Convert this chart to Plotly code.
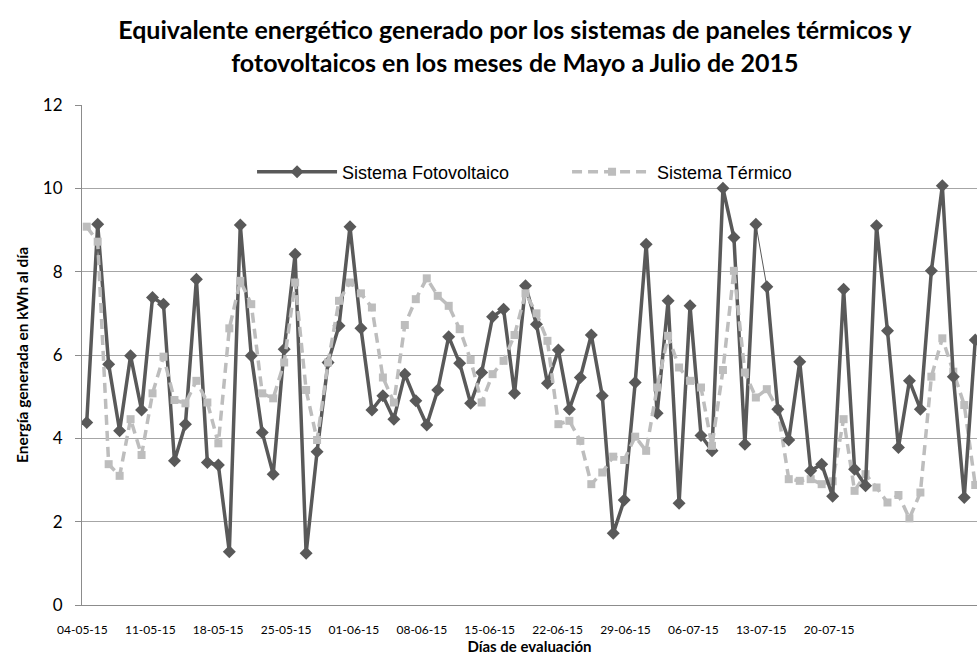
import plotly.graph_objects as go

# ---- data ----
tick_dates = ["2015-05-04", "2015-05-11", "2015-05-18", "2015-05-25",
              "2015-06-01", "2015-06-08", "2015-06-15", "2015-06-22",
              "2015-06-29", "2015-07-06", "2015-07-13", "2015-07-20"]
tick_labels = ["04-05-15", "11-05-15", "18-05-15", "25-05-15",
               "01-06-15", "08-06-15", "15-06-15", "22-06-15",
               "29-06-15", "06-07-15", "13-07-15", "20-07-15"]

fotovoltaico = [4.38, 9.14, 5.78, 4.18, 5.98, 4.68, 7.38, 7.22, 3.46, 4.34,
                7.82, 3.42, 3.36, 1.28, 9.12, 5.98, 4.14, 3.14, 6.14, 8.42,
                1.24, 3.68, 5.82, 6.70, 9.08, 6.64, 4.68, 5.02, 4.46, 5.54,
                4.90, 4.32, 5.16, 6.44, 5.80, 4.84, 5.58, 6.92, 7.10, 5.08,
                7.66, 6.74, 5.32, 6.12, 4.70, 5.46, 6.48, 5.02, 1.72, 2.52,
                5.34, 8.66, 4.60, 7.30, 2.44, 7.18, 4.07, 3.70, 10.00, 8.82,
                3.86, 9.14, 7.64, 4.70, 3.96, 5.84, 3.22, 3.38, 2.61, 7.58,
                3.26, 2.86, 9.10, 6.58, 3.78, 5.38, 4.70, 8.02, 10.06, 5.48,
                2.58, 6.36]

termico = [9.08, 8.72, 3.38, 3.10, 4.46, 3.60, 5.08, 5.96, 4.92, 4.84,
           5.38, 4.86, 3.88, 6.64, 7.78, 7.22, 5.08, 4.96, 5.82, 7.74,
           5.16, 3.96, 5.82, 7.30, 7.74, 7.48, 7.14, 5.46, 4.86, 6.72,
           7.34, 7.84, 7.42, 7.18, 6.62, 5.88, 4.86, 5.54, 5.86, 6.48,
           7.48, 7.00, 6.34, 4.34, 4.42, 3.94, 2.90, 3.18, 3.56, 3.48,
           4.04, 3.70, 5.22, 6.46, 5.70, 5.38, 5.22, 3.82, 5.64, 8.02,
           5.58, 4.98, 5.18, 4.70, 3.02, 2.98, 3.02, 2.90, 2.97, 4.46,
           2.74, 3.14, 2.82, 2.46, 2.64, 2.08, 2.70, 5.48, 6.40, 5.60,
           4.80, 2.88]

dias = list(range(len(fotovoltaico)))
thin_from = 61  # segment drawn thin in the original

DARK = "#595959"
LIGHT = "#BDBDBD"
FONT = "Lato, 'Open Sans', sans-serif"
LEG_FONT = "'Liberation Sans', Arial, sans-serif"

fig = go.Figure()

# invisible carrier for the date axis labels (primary x axis)
fig.add_trace(go.Scatter(
    x=[tick_dates[0], tick_dates[-1]], y=[None, None], mode="lines",
    xaxis="x", yaxis="y", showlegend=False, hoverinfo="skip"))

fig.add_trace(go.Scatter(
    x=dias[:thin_from + 1], y=fotovoltaico[:thin_from + 1],
    name="Sistema Fotovoltaico", mode="lines+markers", xaxis="x2",
    line=dict(color=DARK, width=3.5),
    marker=dict(symbol="diamond", size=10, color=DARK)))

fig.add_trace(go.Scatter(
    x=dias, y=termico, name="Sistema Térmico", mode="lines+markers",
    xaxis="x2",
    line=dict(color=LIGHT, width=3.5, dash="10px,6px"),
    marker=dict(symbol="square", size=8, color=LIGHT)))

fig.add_trace(go.Scatter(
    x=dias[thin_from:thin_from + 2], y=fotovoltaico[thin_from:thin_from + 2],
    mode="lines", xaxis="x2", line=dict(color=DARK, width=1),
    showlegend=False))
fig.add_trace(go.Scatter(
    x=dias[thin_from + 1:], y=fotovoltaico[thin_from + 1:],
    mode="lines+markers", xaxis="x2", line=dict(color=DARK, width=3.5),
    marker=dict(symbol="diamond", size=10, color=DARK),
    showlegend=False))

fig.update_layout(
    width=977, height=666,
    margin=dict(l=82, r=0, t=105, b=61, autoexpand=False),
    paper_bgcolor="white", plot_bgcolor="white",
    font=dict(family=FONT, color="#000000"),
    title=dict(
        text="<b>Equivalente energético generado por los sistemas de paneles térmicos y<br>"
             "fotovoltaicos en los meses de Mayo a Julio de 2015</b>",
        x=0.527, xref="container", xanchor="center",
        y=0.9414, yref="container", yanchor="top",
        font=dict(size=25, family=FONT, color="#000000")),
    xaxis=dict(
        type="date",
        range=["2015-05-03 23:00", "2015-08-04 06:00"],
        tickvals=tick_dates, ticktext=tick_labels,
        showline=True, linecolor="#8C8C8C", linewidth=1,
        showgrid=False, zeroline=False,
        ticks="outside", ticklen=14, tickcolor="rgba(0,0,0,0)",
        tickfont=dict(size=12, family=FONT, color="#000000"),
        title=dict(text="<b>Días de evaluación</b>", standoff=4,
                   font=dict(size=15, family=FONT, color="#000000"))),
    xaxis2=dict(range=[-0.43, 81.16], overlaying="x", anchor="y",
                side="bottom", visible=False, fixedrange=True),
    yaxis=dict(
        range=[0, 12], dtick=2, tick0=0,
        showline=True, linecolor="#8C8C8C", linewidth=1,
        showgrid=True, gridcolor="#A6A6A6", gridwidth=1,
        zeroline=False,
        ticks="outside", ticklen=6, tickcolor="#8C8C8C",
        ticklabelstandoff=9,
        tickfont=dict(size=17, family=FONT, color="#000000"),
        title=dict(text="<b>Energía generada en kWh al día</b>", standoff=10,
                   font=dict(size=15.5, family=FONT, color="#000000"))),
    legend=dict(
        orientation="h", x=0.19, xanchor="left", y=0.866, yanchor="middle",
        font=dict(size=18, family=LEG_FONT, color="#000000"),
        bgcolor="rgba(0,0,0,0)", entrywidth=220, entrywidthmode="pixels",
        itemwidth=80, traceorder="normal"),
    showlegend=True,
)

fig.write_html("out.html", config={"displayModeBar": False},
               post_script="document.body.style.margin='0px';")
